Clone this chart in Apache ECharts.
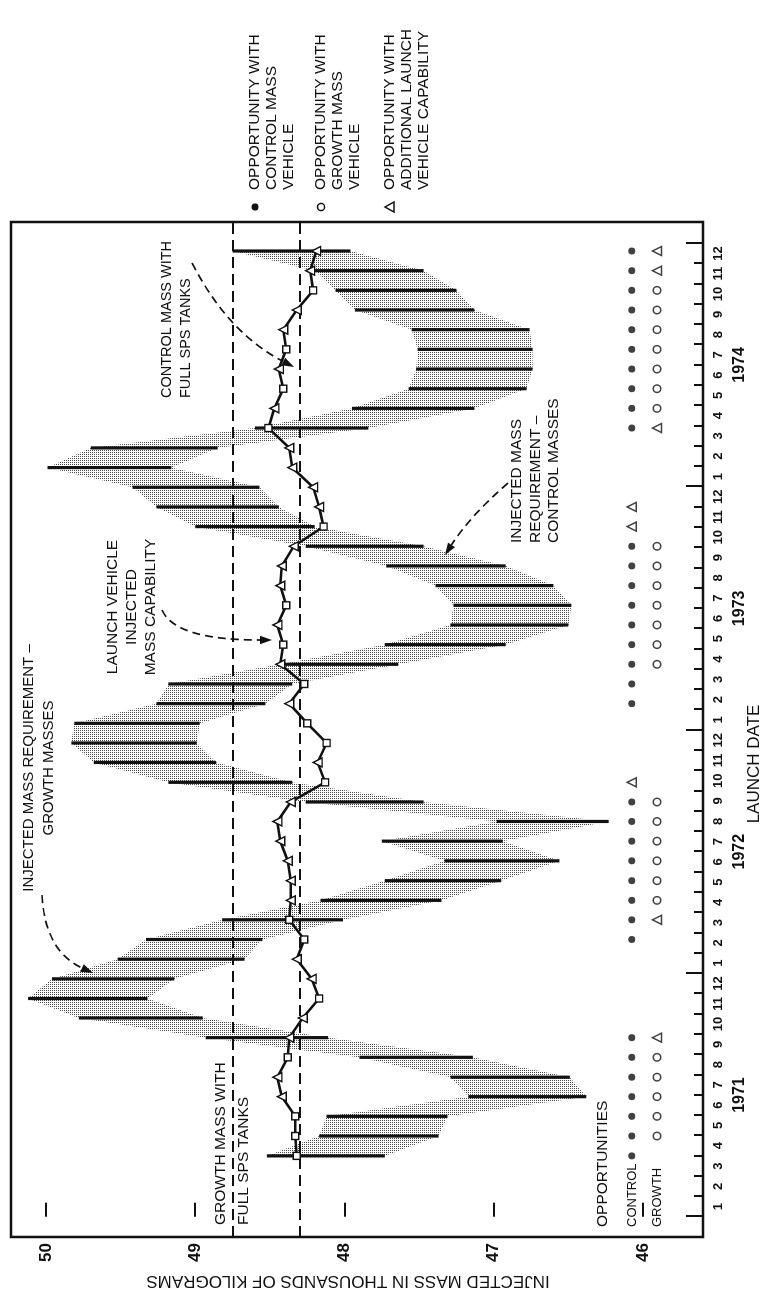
<!DOCTYPE html>
<html>
<head>
<meta charset="utf-8">
<script src="https://cdn.jsdelivr.net/npm/echarts@6.0.0/dist/echarts.min.js"></script>
<style>
html,body{margin:0;padding:0;background:#fff;overflow:hidden;width:769px;height:1291px;}
#wrap{position:absolute;left:0;top:0;width:1291px;height:769px;transform-origin:0 0;transform:translate(0,1291px) rotate(-90deg);}
#chart{width:1291px;height:769px;}
</style>
</head>
<body>
<div id="wrap"><div id="chart"></div></div>
<script>
// ---------------- DATA ----------------
const monthLabels = ['1','2','3','4','5','6','7','8','9','10','11','12'];
const yearLabels = ['1971','1972','1973','1974'];
const valueTicks = [46, 47, 48, 49, 50];

// launch opportunities: position in months after 1 Jan 1971
const launchPos = [
  3.00, 3.98, 4.95, 5.92, 6.88, 7.86, 8.83, 9.80, 10.76, 11.73,
  12.70, 13.67, 14.64, 15.60, 16.57, 17.55, 18.52, 19.49, 20.45, 21.42,
  22.40, 23.36, 24.33, 25.30, 26.27, 27.24, 28.21, 29.18, 30.15, 31.12,
  32.09, 33.06, 34.03, 35.00, 35.97, 36.94, 37.91, 38.89, 39.86, 40.83,
  41.80, 42.77, 43.74, 44.71, 45.68, 46.65, 47.62
];
// injected mass requirement range (thousands of kg)
const reqHigh = [
  48.52, 48.17, 48.12, 47.17, 47.29, 47.90, 48.93, 49.78, 50.12, 49.96,
  49.52, 49.33, 48.82, 48.16, 47.73, 47.33, 47.75, 46.98, 48.26, 49.18,
  49.68, 49.83, 49.81, 49.26, 49.18, 48.43, 47.73, 47.29, 47.27, 47.39,
  47.72, 48.26, 49.00, 49.26, 49.42, 49.99, 49.70, 48.60, 47.95, 47.57,
  47.52, 47.51, 47.55, 47.93, 48.06, 48.20, 48.75
];
const reqLow = [
  47.73, 47.37, 47.31, 46.38, 46.49, 47.14, 48.11, 48.95, 49.32, 49.14,
  48.67, 48.55, 48.01, 47.35, 46.95, 46.56, 46.94, 46.23, 47.47, 48.35,
  48.86, 48.99, 48.97, 48.53, 48.35, 47.64, 46.92, 46.50, 46.48, 46.60,
  46.92, 47.47, 48.20, 48.44, 48.57, 49.16, 48.85, 47.84, 47.13, 46.78,
  46.74, 46.74, 46.76, 47.13, 47.25, 47.47, 47.96
];
// launch vehicle injected mass capability
const lvCapability = [
  48.32, 48.33, 48.33, 48.42, 48.45, 48.38, 48.37, 48.28, 48.17, 48.22,
  48.32, 48.27, 48.37, 48.36, 48.36, 48.38, 48.43, 48.45, 48.36, 48.13,
  48.18, 48.12, 48.25, 48.37, 48.27, 48.43, 48.41, 48.45, 48.39, 48.43,
  48.42, 48.34, 48.14, 48.17, 48.21, 48.35, 48.37, 48.51, 48.47, 48.41,
  48.44, 48.39, 48.41, 48.32, 48.21, 48.23, 48.19
];
// marker kind on the capability curve: S = square, T = triangle
const lvMarker = [
  'S','S','S','T','T','S','T','T','S','T',
  'T','S','S','T','T','T','T','T','T','S',
  'T','S','S','T','S','T','S','T','S','T',
  'T','T','S','T','T','T','T','S','T','S',
  'T','S','T','T','S','T','T'
];
// opportunities: control row (D = control mass vehicle, A = additional LV capability)
const controlOpp = [
  'D','D','D','D','D','D','D','','','',
  '','D','D','D','D','D','D','D','D','A',
  '','','','D','D','D','D','D','D','D',
  'D','D','A','A','','','','D','D','D',
  'D','D','D','D','D','D','D'
];
// growth row (G = growth mass vehicle, A = additional LV capability)
const growthOpp = [
  '','G','G','G','G','G','A','','','',
  '','','A','G','G','G','G','G','G','',
  '','','','','','G','G','G','G','G',
  'G','G','','','','','','A','G','G',
  'G','G','G','G','G','A','A'
];
const fullTankGrowth = 48.75;
const fullTankControl = 48.30;

// ---------------- LAYOUT / STYLE ----------------
const W = 1291, H = 769;
const INK = '#111111';
const FONT = "'Liberation Sans', Arial, Helvetica, sans-serif";
const ROW_CONTROL = 46.076, ROW_GROWTH = 45.906;   // rows of opportunity symbols (axis units)

function stipple() {
  const c = document.createElement('canvas');
  c.width = 2; c.height = 2;
  const g = c.getContext('2d');
  g.fillStyle = 'rgba(255,255,255,0)';
  g.fillRect(0, 0, 2, 2);
  g.fillStyle = '#4a4a4a';
  g.fillRect(0, 0, 1, 1);
  return c;
}
const pattern = {image: stipple(), repeat: 'repeat'};

const n = launchPos.length;
const bandData = [];
for (let i = 0; i < n - 1; i++) {
  bandData.push([launchPos[i], reqLow[i], reqHigh[i], launchPos[i + 1], reqLow[i + 1], reqHigh[i + 1]]);
}
const barData = launchPos.map((x, i) => [x, reqLow[i], reqHigh[i]]);
const capData = launchPos.map((x, i) => ({
  value: [x, lvCapability[i]],
  symbol: lvMarker[i] === 'S' ? 'rect' : 'triangle',
  symbolSize: lvMarker[i] === 'S' ? 7 : 9
}));
function rowPoints(arr, code, row) {
  const out = [];
  arr.forEach((c, i) => { if (c === code) out.push([launchPos[i], row]); });
  return out;
}

const monthTickVals = [], longTickVals = [], monthLabelVals = [], yearLabelVals = [];
for (let k = 0; k <= 48; k++) (k % 12 === 0 ? longTickVals : monthTickVals).push(k);
for (let m = 0; m < 48; m++) monthLabelVals.push(m + 0.5);
yearLabels.forEach((y, j) => yearLabelVals.push(j * 12 + 6));

function txt(x, y, text, fs, align, rot) {
  return {
    type: 'text', x: x, y: y, rotation: rot || 0, z: 100, silent: true,
    style: {text: text, fill: INK, fontSize: fs, fontFamily: FONT, align: align || 'left', verticalAlign: 'middle'}
  };
}
function arrow(s, c, e) {
  const dx = e[0] - c[0], dy = e[1] - c[1];
  const L = Math.sqrt(dx * dx + dy * dy);
  const ux = dx / L, uy = dy / L, nx = -uy, ny = ux;
  const hl = 12, hw = 4.2;
  const bx = e[0] - ux * hl, by = e[1] - uy * hl;
  return [
    {type: 'bezierCurve', z: 100, silent: true,
     shape: {x1: s[0], y1: s[1], cpx1: c[0], cpy1: c[1], x2: bx, y2: by},
     style: {stroke: INK, lineWidth: 1.7, lineDash: [8, 5], fill: null}},
    {type: 'polygon', z: 100, silent: true,
     shape: {points: [[e[0], e[1]], [bx + nx * hw, by + ny * hw], [bx - nx * hw, by - ny * hw]]},
     style: {fill: INK}}
  ];
}

const graphics = [
  // axis title
  txt(10, 348, 'INJECTED MASS IN THOUSANDS OF KILOGRAMS', 17, 'center', Math.PI / 2),
  txt(527, 754, 'LAUNCH DATE', 17, 'center'),
  // annotations
  txt(523, 29, 'INJECTED MASS REQUIREMENT –', 15, 'center'),
  txt(523, 49, 'GROWTH MASSES', 15, 'center'),
  txt(684, 113, 'LAUNCH VEHICLE', 15.5, 'center'),
  txt(684, 132, 'INJECTED', 15.5, 'center'),
  txt(684, 151, 'MASS CAPABILITY', 15.5, 'center'),
  txt(748, 517, 'INJECTED MASS', 15.5),
  txt(748, 536, 'REQUIREMENT –', 15.5),
  txt(748, 554, 'CONTROL MASSES', 15.5),
  txt(893, 167, 'CONTROL MASS WITH', 14.5),
  txt(893, 186, 'FULL SPS TANKS', 14.5),
  txt(66, 221, 'GROWTH MASS WITH', 15.5),
  txt(66, 244, 'FULL SPS TANKS', 15.5),
  txt(64, 603, 'OPPORTUNITIES', 15.5),
  txt(64, 632, 'CONTROL', 13),
  txt(64, 657, 'GROWTH', 13),
  // legend
  {type: 'circle', z: 100, silent: true, shape: {cx: 1084, cy: 255, r: 3.6}, style: {fill: INK}},
  txt(1101, 255, 'OPPORTUNITY WITH', 15.5),
  txt(1101, 272, 'CONTROL MASS', 15.5),
  txt(1101, 289, 'VEHICLE', 15.5),
  {type: 'circle', z: 100, silent: true, shape: {cx: 1084, cy: 321, r: 3.6}, style: {fill: '#fff', stroke: INK, lineWidth: 1.5}},
  txt(1101, 321, 'OPPORTUNITY WITH', 15.5),
  txt(1101, 338, 'GROWTH MASS', 15.5),
  txt(1101, 355, 'VEHICLE', 15.5),
  {type: 'polygon', z: 100, silent: true, shape: {points: [[1084, 385], [1089, 394], [1079, 394]]}, style: {fill: '#fff', stroke: INK, lineWidth: 1.5}},
  txt(1101, 390, 'OPPORTUNITY WITH', 15.5),
  txt(1101, 407, 'ADDITIONAL LAUNCH', 15.5),
  txt(1101, 424, 'VEHICLE CAPABILITY', 15.5)
].concat(
  arrow([396, 42], [340, 45], [318, 93]),
  arrow([681, 162], [651, 175], [651, 272]),
  arrow([808, 508], [775, 470], [736, 445]),
  arrow([1028, 192], [958, 228], [924, 294])
);

const chart = echarts.init(document.getElementById('chart'), null, {width: W, height: H, renderer: 'canvas'});
chart.setOption({
  animation: false,
  backgroundColor: '#fff',
  grid: {left: 54, top: 11, width: 1015, height: 692, show: true, borderColor: INK, borderWidth: 2.5, backgroundColor: 'transparent'},
  xAxis: [
    {
      type: 'value', min: -1.0, max: 49.05, position: 'bottom',
      axisLine: {show: false}, splitLine: {show: false},
      axisTick: {show: true, inside: true, length: 9, lineStyle: {color: INK, width: 2}, customValues: monthTickVals},
      axisLabel: {customValues: monthLabelVals, margin: 9, fontSize: 13, fontWeight: 'bold', fontFamily: FONT, color: INK,
        formatter: v => monthLabels[Math.floor(v) % 12]}
    },
    {
      type: 'value', min: -1.0, max: 49.05, position: 'bottom',
      axisLine: {show: false}, splitLine: {show: false},
      axisTick: {show: true, inside: true, length: 17, lineStyle: {color: INK, width: 2}, customValues: longTickVals},
      axisLabel: {customValues: yearLabelVals, margin: 29, fontSize: 16, fontWeight: 'bold', fontFamily: FONT, color: INK,
        formatter: v => yearLabels[Math.round((v - 6) / 12)]}
    }
  ],
  yAxis: {
    type: 'value', min: 45.598, max: 50.2345,
    axisLine: {show: false}, splitLine: {show: false},
    axisTick: {show: true, inside: true, length: 14, lineStyle: {color: INK, width: 2}, customValues: valueTicks},
    axisLabel: {customValues: valueTicks, margin: 6, fontSize: 17, fontWeight: 'bold', fontFamily: FONT, color: INK}
  },
  graphic: graphics,
  series: [
    {
      type: 'custom', name: 'band', z: 1, clip: true, silent: true,
      data: bandData,
      renderItem: function (params, api) {
        const a = api.coord([api.value(0), api.value(1)]);
        const b = api.coord([api.value(0), api.value(2)]);
        const c = api.coord([api.value(3), api.value(5)]);
        const d = api.coord([api.value(3), api.value(4)]);
        return {type: 'polygon', shape: {points: [a, b, c, d]}, style: {fill: pattern, stroke: null}};
      }
    },
    {
      type: 'custom', name: 'Injected mass requirement', z: 2, clip: true, silent: true,
      data: barData,
      renderItem: function (params, api) {
        const a = api.coord([api.value(0), api.value(1)]);
        const b = api.coord([api.value(0), api.value(2)]);
        return {type: 'line', shape: {x1: a[0], y1: a[1], x2: b[0], y2: b[1]}, style: {stroke: INK, lineWidth: 3.2}};
      },
      markLine: {
        silent: true, symbol: 'none', label: {show: false},
        lineStyle: {color: INK, width: 1.8, type: [11, 6]},
        data: [{yAxis: fullTankGrowth}, {yAxis: fullTankControl}]
      }
    },
    {
      type: 'line', name: 'Launch vehicle injected mass capability', z: 5, silent: true,
      data: capData,
      lineStyle: {color: INK, width: 2.6},
      itemStyle: {color: '#fff', borderColor: INK, borderWidth: 1.4},
      showAllSymbol: true
    },
    {type: 'scatter', name: 'Opportunity with control mass vehicle', z: 6, silent: true,
     data: rowPoints(controlOpp, 'D', ROW_CONTROL), symbol: 'circle', symbolSize: 7, itemStyle: {color: INK}},
    {type: 'scatter', name: 'Opportunity with growth mass vehicle', z: 6, silent: true,
     data: rowPoints(growthOpp, 'G', ROW_GROWTH), symbol: 'circle', symbolSize: 7.5,
     itemStyle: {color: '#fff', borderColor: INK, borderWidth: 1.5}},
    {type: 'scatter', name: 'Opportunity with additional launch vehicle capability', z: 6, silent: true,
     data: rowPoints(controlOpp, 'A', ROW_CONTROL).concat(rowPoints(growthOpp, 'A', ROW_GROWTH)),
     symbol: 'triangle', symbolSize: 9, itemStyle: {color: '#fff', borderColor: INK, borderWidth: 1.5}}
  ]
});
</script>
</body>
</html>
